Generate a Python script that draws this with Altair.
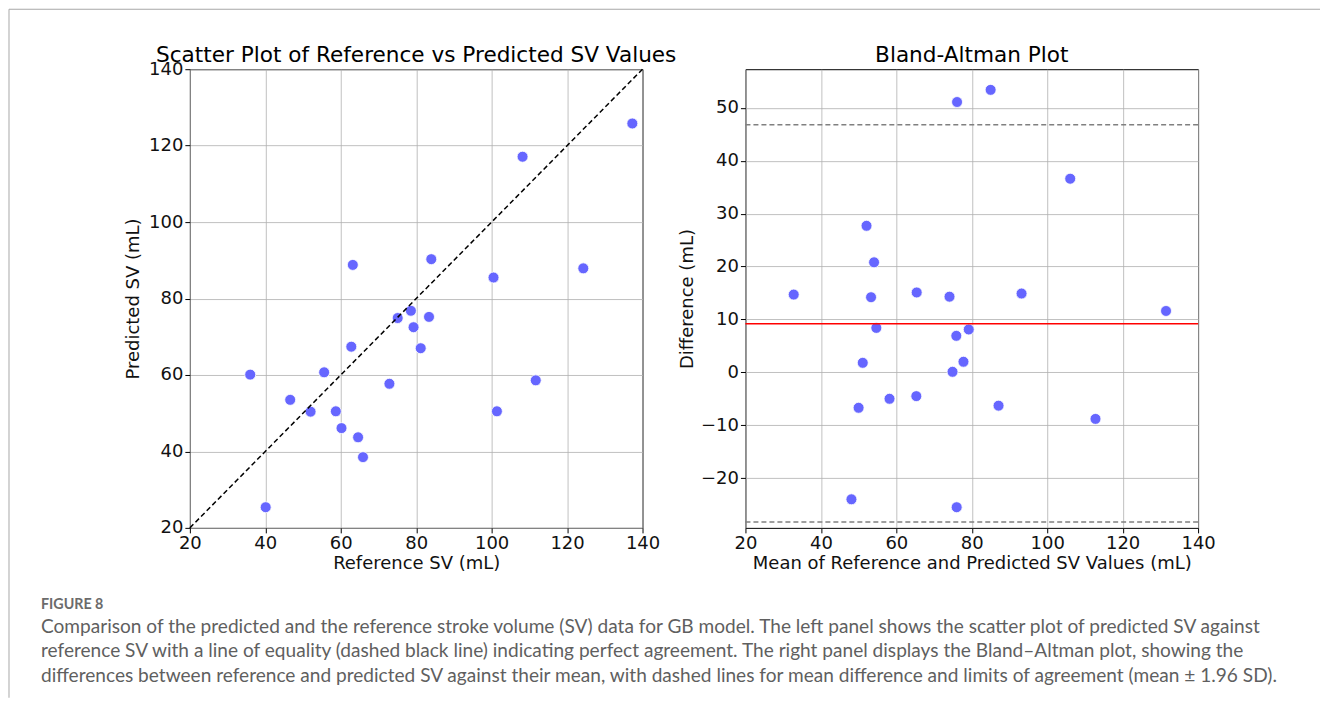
import altair as alt
import pandas as pd

# ---- data ----
ref_sv = [137.3, 108.2, 63.2, 84.0, 100.5, 124.3, 78.6, 75.1, 83.4, 79.3, 81.2, 62.8,
          36.0, 55.6, 72.9, 111.7, 46.6, 52.0, 58.7, 101.4, 60.2, 64.6, 65.9, 40.1]
pred_sv = [125.8, 117.1, 88.8, 90.3, 85.5, 87.9, 76.8, 74.9, 75.2, 72.5, 67.0, 67.4,
           60.1, 60.7, 57.7, 58.6, 53.5, 50.4, 50.5, 50.5, 46.1, 43.7, 38.5, 25.4]

ba_mean = [76.1, 85.0, 106.1, 52.1, 54.1, 32.8, 53.3, 65.4, 74.1, 93.2, 131.5, 54.7,
           79.2, 75.9, 51.1, 77.8, 74.9, 58.2, 65.3, 50.0, 87.1, 112.8, 48.1, 76.0]
ba_diff = [51.1, 53.4, 36.6, 27.7, 20.8, 14.7, 14.2, 15.1, 14.3, 14.9, 11.6, 8.4,
           8.1, 6.9, 1.8, 2.0, 0.1, -5.0, -4.5, -6.7, -6.3, -8.8, -24.0, -25.5]

mean_diff = [9.2]
limits_of_agreement = [46.8, -28.3]

sv_ticks = [20, 40, 60, 80, 100, 120, 140]
diff_ticks = [-20, -10, 0, 10, 20, 30, 40, 50]
identity_line = [20, 140]

title_left = ["Scatter Plot of Reference vs Predicted SV Values"]
title_right = ["Bland-Altman Plot"]
figure_label = ["FIGURE 8"]
caption_lines = [
    "Comparison of the predicted and the reference stroke volume (SV) data for GB model. The left panel shows the scatter plot of predicted SV against",
    "reference SV with a line of equality (dashed black line) indicating perfect agreement. The right panel displays the Bland\u2013Altman plot, showing the",
    "differences between reference and predicted SV against their mean, with dashed lines for mean difference and limits of agreement (mean \u00b1 1.96 SD).",
]

# ---- styling ----
W, H = 453, 459
FONT = "DejaVu Sans"
CAP_FONT = "Lato"
POINT = "#6666ff"
LABEL_SIZE = 18
TITLE_SIZE = 21.6

scatter_df = pd.DataFrame({"ref": ref_sv, "pred": pred_sv})
ident_df = pd.DataFrame({"v": identity_line})
ba_df = pd.DataFrame({"m": ba_mean, "d": ba_diff})
mean_df = pd.DataFrame({"y": mean_diff})
loa_df = pd.DataFrame({"y": limits_of_agreement})

xs = alt.Scale(domain=[20, 140], nice=False, zero=False)
ys = alt.Scale(domain=[20, 140], nice=False, zero=False)
bxs = alt.Scale(domain=[20, 140], nice=False, zero=False)
bys = alt.Scale(domain=[-29.4, 57.3], nice=False, zero=False)

pts = alt.Chart(scatter_df).mark_circle(
    size=120, color=POINT, opacity=1, stroke="white", strokeWidth=0.8
).encode(
    x=alt.X("ref:Q", scale=xs, axis=alt.Axis(values=sv_ticks, title="Reference SV (mL)", titlePadding=2)),
    y=alt.Y("pred:Q", scale=ys, axis=alt.Axis(values=sv_ticks, title="Predicted SV (mL)", titlePadding=6)),
)
diag = alt.Chart(ident_df).mark_line(color="black", strokeDash=[5, 3], strokeWidth=1.5).encode(
    x=alt.X("v:Q", scale=xs), y=alt.Y("v:Q", scale=ys)
)

frame_df = pd.DataFrame({"k": [0]})
frame_top = alt.Chart(frame_df).mark_rule(color="#a8a8a8", strokeWidth=1).encode(
    x=alt.value(-181), x2=alt.value(1131), y=alt.value(-60)
)
frame_left = alt.Chart(frame_df).mark_rule(color="#a8a8a8", strokeWidth=1).encode(
    x=alt.value(-181), y=alt.value(-60), y2=alt.value(629)
)

t_left = alt.Chart(pd.DataFrame({"t": title_left})).mark_text(
    font=FONT, fontSize=TITLE_SIZE, color="black", align="center", baseline="alphabetic"
).encode(text="t:N", x=alt.value(W / 2), y=alt.value(-7))

fig_lab = alt.Chart(pd.DataFrame({"t": figure_label})).mark_text(
    font=CAP_FONT, fontSize=14.3, fontWeight="bold", color="#6b6b6b", align="left", baseline="alphabetic"
).encode(text="t:N", x=alt.value(-149), y=alt.value(540))

caption = alt.Chart(pd.DataFrame({"t": ["\n".join(caption_lines)]})).mark_text(
    font=CAP_FONT, fontSize=19.1, color="#5f5f5f", align="left", baseline="alphabetic",
    lineBreak="\n", lineHeight=24.5
).encode(text="t:N", x=alt.value(-149), y=alt.value(564))

left = alt.layer(pts, diag, frame_top, frame_left, t_left, fig_lab, caption).properties(width=W, height=H)

ba_pts = alt.Chart(ba_df).mark_circle(
    size=120, color=POINT, opacity=1, stroke="white", strokeWidth=0.8
).encode(
    x=alt.X("m:Q", scale=bxs, axis=alt.Axis(values=sv_ticks, title="Mean of Reference and Predicted SV Values (mL)", titlePadding=2)),
    y=alt.Y("d:Q", scale=bys, axis=alt.Axis(values=diff_ticks, title="Difference (mL)", titlePadding=4)),
)
mean_rule = alt.Chart(mean_df).mark_rule(color="red", strokeWidth=1.5).encode(y=alt.Y("y:Q", scale=bys))
loa_rule = alt.Chart(loa_df).mark_rule(color="gray", strokeWidth=1.5, strokeDash=[5, 3]).encode(
    y=alt.Y("y:Q", scale=bys)
)
t_right = alt.Chart(pd.DataFrame({"t": title_right})).mark_text(
    font=FONT, fontSize=TITLE_SIZE, color="black", align="center", baseline="alphabetic"
).encode(text="t:N", x=alt.value(W / 2), y=alt.value(-7))

right = alt.layer(ba_pts, mean_rule, loa_rule, t_right).properties(width=W, height=H)

chart = alt.hconcat(left, right, spacing=103, bounds="flush", padding=0).configure_view(
    stroke="black", strokeWidth=1
).configure_axis(
    domain=False, grid=True, gridColor="#b0b0b0", gridWidth=0.8, gridOpacity=1,
    tickColor="black", tickSize=5, tickWidth=1,
    labelFont=FONT, labelFontSize=LABEL_SIZE, labelColor="#111", labelPadding=2, labelFlush=False,
    titleFont=FONT, titleFontSize=LABEL_SIZE, titleFontWeight="normal", titleColor="#111",
)

chart.save("out.html", embed_options={"renderer": "svg", "actions": False})
